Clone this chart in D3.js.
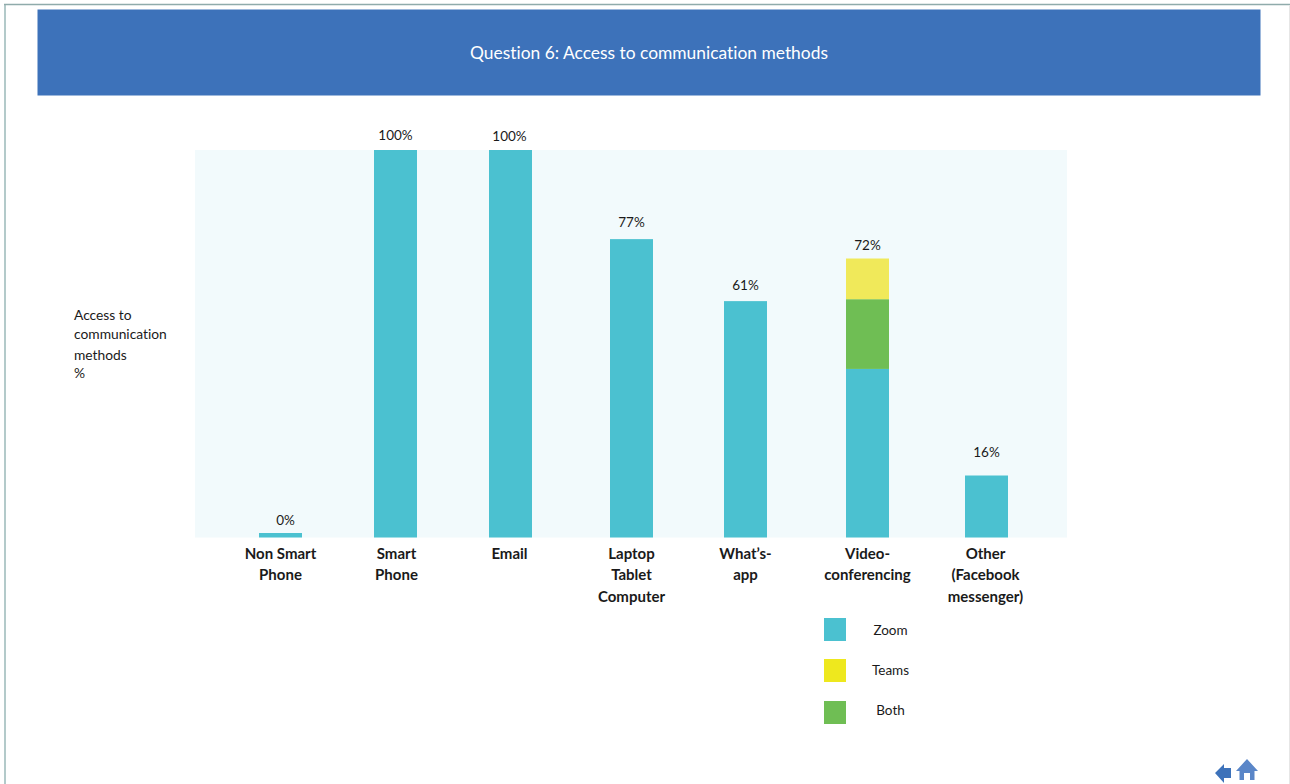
<!DOCTYPE html>
<html>
<head>
<meta charset="utf-8">
<script src="https://cdn.jsdelivr.net/npm/d3@7"></script>
<style>
  html, body { margin: 0; padding: 0; background: #fff; }
  svg { display: block; }
  text { font-family: Lato, "Open Sans", sans-serif; fill: #1a1a1a; font-variant-ligatures: none; }
</style>
</head>
<body>
<div id="chart"></div>
<script>
// Survey results for question 6
const titleText = "Question 6: Access to communication methods";
const axisTitleLines = ["Access to", "communication", "methods", "%"];
const categories = ["Non Smart Phone", "Smart Phone", "Email", "Laptop Tablet Computer", "What’s-app", "Video-conferencing", "Other (Facebook messenger)"];
const categoryLines = [
  ["Non Smart", "Phone"],
  ["Smart", "Phone"],
  ["Email"],
  ["Laptop", "Tablet", "Computer"],
  ["What’s-", "app"],
  ["Video-", "conferencing"],
  ["Other", "(Facebook", "messenger)"]
];
const totals = [0, 100, 100, 77, 61, 72, 16];
const zoomValues = [0, 100, 100, 77, 61, 43.5, 16];
const bothValues = [0, 0, 0, 0, 0, 18, 0];
const teamsValues = [0, 0, 0, 0, 0, 10.5, 0];
const legendNames = ["Zoom", "Teams", "Both"];

// Colours and layout
const colours = { Zoom: "#4bc1d0", Both: "#6fbe54", Teams: "#f0e95a" };
const legendColours = ["#4bc1d0", "#eee81e", "#6fbe54"];
const plot = { left: 195, right: 1067, top: 150, bottom: 537.5 };
const barWidth = 43;
const slotLefts = [259, 374, 489, 610, 724, 846, 965];
const labelGaps = [12.5, 10, 9, 12, 11, 8.5, 18.5];
const labelShifts = [5, 0, -1, 0, 0, 0, 0];
const categoryShifts = [0, 1, -1, 0, 0, 0, -1];
const zeroBarHeight = 4.5;

const svg = d3.select("#chart").append("svg").attr("width", 1290).attr("height", 784);

// Slide frame and header band
svg.append("path")
  .attr("d", "M5,784V5")
  .attr("fill", "none").attr("stroke", "#b3caca").attr("stroke-width", 2);
svg.append("path")
  .attr("d", "M4,4.5H1290")
  .attr("fill", "none").attr("stroke", "#8fabab").attr("stroke-width", 1.5);
svg.append("path")
  .attr("d", "M1289.5,5V784")
  .attr("fill", "none").attr("stroke", "#e6e6e6").attr("stroke-width", 1);
svg.append("rect")
  .attr("x", 37.5).attr("y", 9.5).attr("width", 1223).attr("height", 86)
  .attr("fill", "#3d72ba");
svg.append("text")
  .attr("x", 649).attr("y", 59).attr("text-anchor", "middle")
  .attr("font-size", 17.4).style("fill", "#fff").text(titleText);

// Scales
const x = d3.scaleOrdinal().domain(categories).range(slotLefts);
const y = d3.scaleLinear().domain([0, 100]).range([plot.bottom, plot.top]);

// Plot background
svg.append("rect")
  .attr("x", plot.left).attr("y", plot.top)
  .attr("width", plot.right - plot.left).attr("height", plot.bottom - plot.top)
  .attr("fill", "#f2fafc");

// Stacked bars
const rows = categories.map((c, i) => ({ category: c, Zoom: zoomValues[i], Both: bothValues[i], Teams: teamsValues[i] }));
const stacked = d3.stack().keys(["Zoom", "Both", "Teams"])(rows);

svg.append("g").selectAll("g").data(stacked).join("g")
  .attr("fill", s => colours[s.key])
  .selectAll("rect").data(s => s.filter(d => d[1] > d[0])).join("rect")
  .attr("x", d => x(d.data.category))
  .attr("y", d => y(d[1]))
  .attr("width", barWidth)
  .attr("height", d => y(d[0]) - y(d[1]));

// A zero value still shows as a thin sliver on the baseline
svg.append("g").selectAll("rect")
  .data(categories.filter((c, i) => totals[i] === 0)).join("rect")
  .attr("x", c => x(c))
  .attr("y", y(0) - zeroBarHeight)
  .attr("width", barWidth)
  .attr("height", zeroBarHeight)
  .attr("fill", colours.Zoom);

// Value labels
svg.append("g").selectAll("text").data(totals).join("text")
  .attr("x", (d, i) => x(categories[i]) + barWidth / 2 + labelShifts[i])
  .attr("y", (d, i) => y(d) - labelGaps[i])
  .attr("text-anchor", "middle")
  .attr("font-size", 13.5)
  .text(d => d + "%");

// Category labels
const categoryGroup = svg.append("g").selectAll("text").data(categoryLines).join("text")
  .attr("text-anchor", "middle")
  .attr("font-size", 15)
  .attr("font-weight", 700);
categoryGroup.selectAll("tspan").data((lines, i) => lines.map(line => ({ line, i }))).join("tspan")
  .attr("x", d => x(categories[d.i]) + barWidth / 2 + categoryShifts[d.i])
  .attr("y", (d, j) => 559 + j * 21.3)
  .text(d => d.line);

// Axis title
svg.append("g").selectAll("text").data(axisTitleLines).join("text")
  .attr("x", 74)
  .attr("y", (d, i) => [320, 339, 360, 378][i])
  .attr("font-size", 13.8)
  .text(d => d);

// Legend
const legend = svg.append("g").selectAll("g").data(legendNames).join("g");
legend.append("rect")
  .attr("x", 824)
  .attr("y", (d, i) => [618, 659, 701][i])
  .attr("width", 22).attr("height", 23)
  .attr("fill", (d, i) => legendColours[i]);
legend.append("text")
  .attr("x", 890.5)
  .attr("y", (d, i) => 635 + i * 40)
  .attr("text-anchor", "middle")
  .attr("font-size", 13.5)
  .text(d => d);

// Navigation icons
svg.append("path")
  .attr("d", "M1215,773L1224,764V768H1231V778H1224V783Z")
  .attr("fill", "#3d72ba");
svg.append("path")
  .attr("d", "M1236,771L1247,759L1258,771H1254.5V780H1250V773H1244V780H1239.5V771Z")
  .attr("fill", "#5a86c8");
</script>
</body>
</html>
